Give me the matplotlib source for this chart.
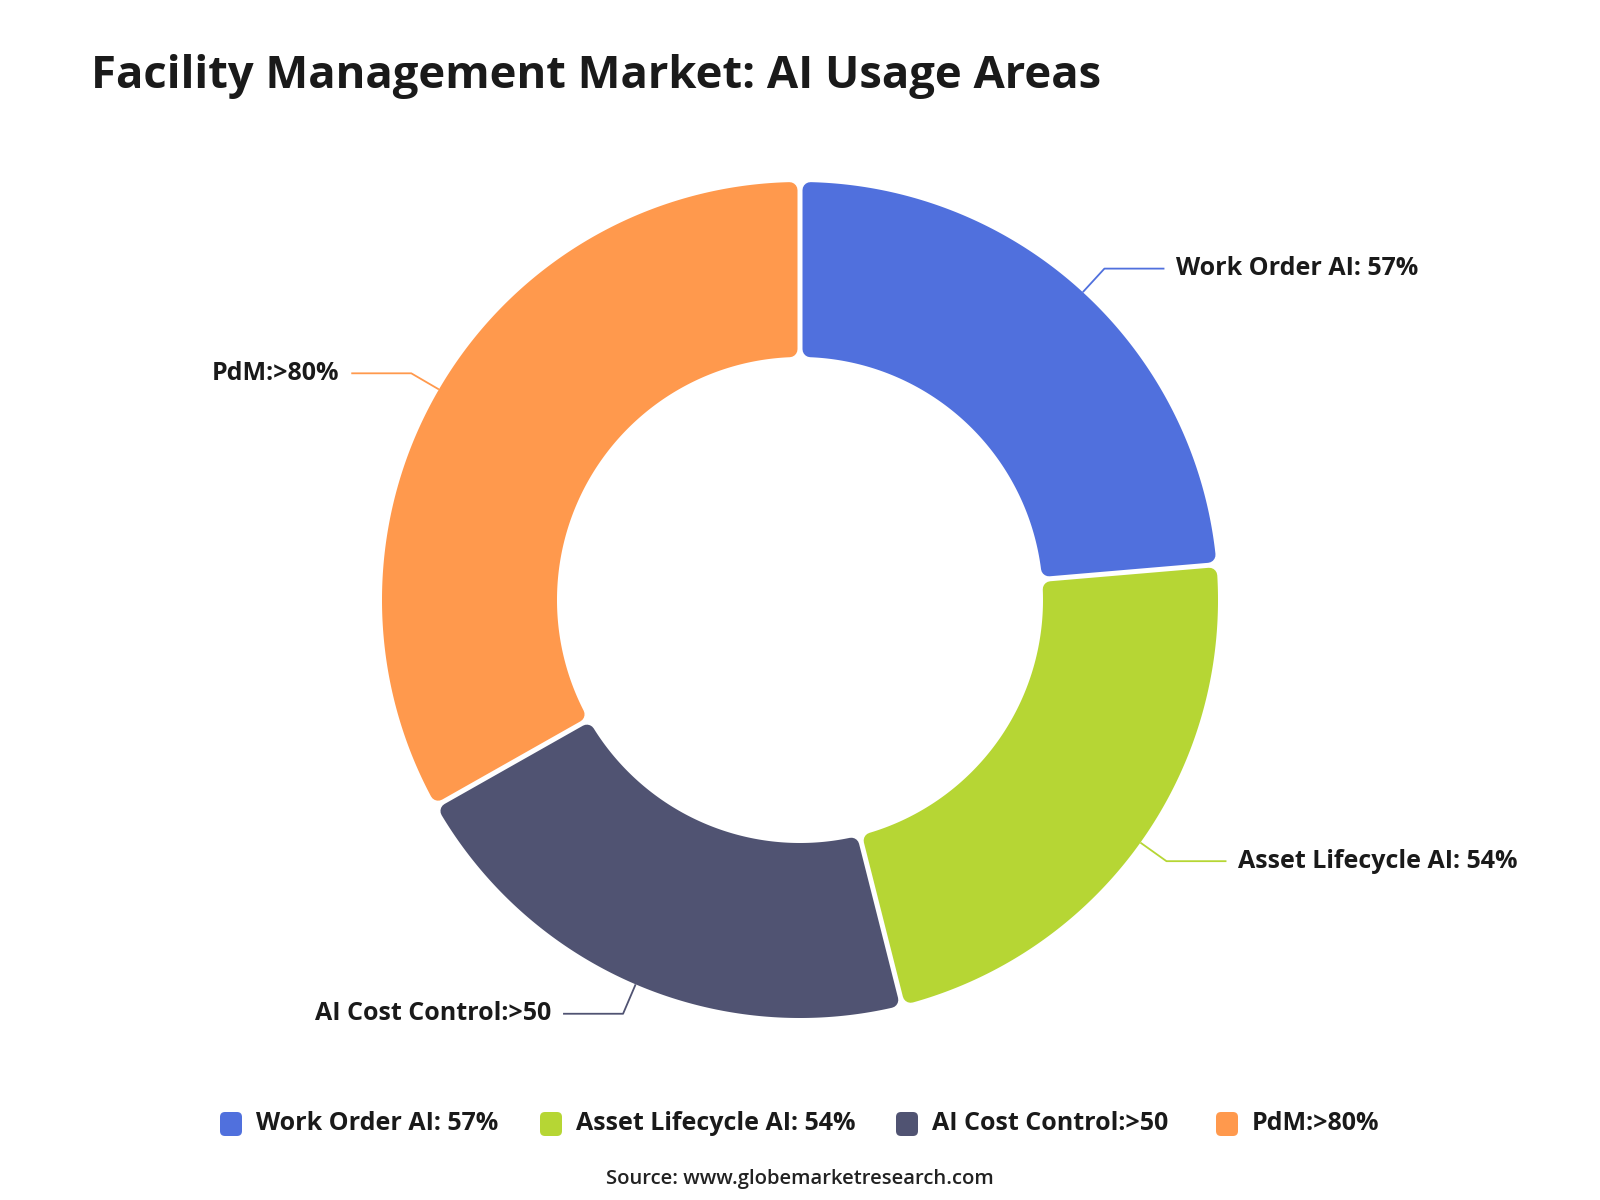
import numpy as np
import matplotlib
matplotlib.use("Agg")
import matplotlib.pyplot as plt
from matplotlib.patches import Polygon, FancyBboxPatch

plt.rcParams['font.family'] = ['Open Sans', 'DejaVu Sans']

# data
categories = ["Work Order AI: 57%", "Asset Lifecycle AI: 54%", "AI Cost Control:>50", "PdM:>80%"]
values = [57, 54, 50, 80]
colors = ["#5070dd", "#b6d634", "#505372", "#ff994d"]

title = "Facility Management Market: AI Usage Areas"
source = "Source: www.globemarketresearch.com"

# layout (pixel units, y axis pointing down)
cx, cy = 800, 600
r_out, r_in = 418, 243
gap, corner = 5, 8
line1, line2 = 32, 60
text_col = "#1a1a1a"


def sector(a1, a2, ro, ri):
    # annular sector with parallel gaps, shrunk by `corner` so a round-joined
    # edge of the same colour gives rounded corners
    h = gap / 2 + corner
    pts = []
    rho = ro - corner
    off = np.degrees(np.arcsin(h / rho))
    for t in np.linspace(a1 - off, a2 + off, 200):
        pts.append((cx + rho * np.cos(np.radians(t)), cy - rho * np.sin(np.radians(t))))
    rho = ri + corner
    off = np.degrees(np.arcsin(h / rho))
    for t in np.linspace(a2 + off, a1 - off, 200):
        pts.append((cx + rho * np.cos(np.radians(t)), cy - rho * np.sin(np.radians(t))))
    return pts


fig = plt.figure(figsize=(16, 12), dpi=100)
ax = fig.add_axes([0, 0, 1, 1])
ax.set_xlim(0, 1600)
ax.set_ylim(1200, 0)
ax.axis("off")

total = sum(values)
start = 90.0
for lab, v, c in zip(categories, values, colors):
    span = 360.0 * v / total
    end = start - span
    ax.add_patch(Polygon(sector(start, end, r_out, r_in), closed=True,
                         facecolor=c, edgecolor=c, lw=2 * corner * 0.72,
                         joinstyle="round"))
    mid = np.radians((start + end) / 2)
    x0, y0 = cx + r_out * np.cos(mid), cy - r_out * np.sin(mid)
    x1, y1 = cx + (r_out + line1) * np.cos(mid), cy - (r_out + line1) * np.sin(mid)
    side = 1 if np.cos(mid) >= 0 else -1
    x2 = x1 + side * line2
    ax.plot([x0, x1, x2], [y0, y1, y1], color=c, lw=1.3, solid_capstyle="butt")
    ax.text(x2 + side * 12, y1, lab, ha="left" if side > 0 else "right", va="center",
            fontsize=18, fontweight="bold", color=text_col)
    start = end

ax.text(91, 88, title, ha="left", va="baseline", fontsize=32.7,
        fontweight="bold", color=text_col)

# legend
leg_y = 1124
sq_x = [220, 540, 896, 1216]
for x, lab, c in zip(sq_x, categories, colors):
    ax.add_patch(FancyBboxPatch((x + 3, leg_y - 9), 16, 18,
                                boxstyle="round,pad=3,rounding_size=5",
                                facecolor=c, edgecolor="none"))
    ax.text(x + 36, leg_y, lab, ha="left", va="center", fontsize=18,
            fontweight="bold", color=text_col)

ax.text(800, 1179, source, ha="center", va="center", fontsize=14.6,
        fontweight="semibold", color="#222222")

fig.savefig("out.png", dpi=100, facecolor="white")
